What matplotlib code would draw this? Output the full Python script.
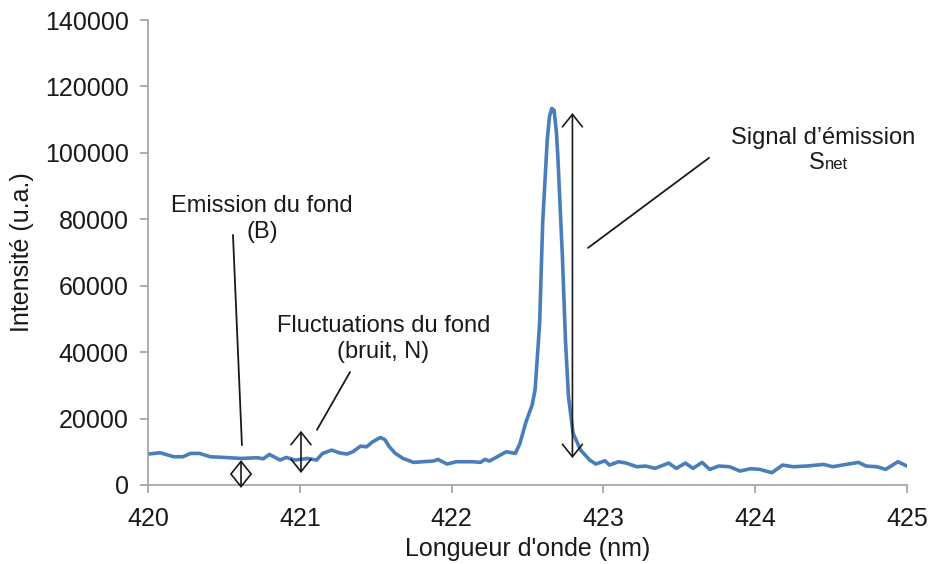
import matplotlib
matplotlib.use('Agg')
import matplotlib.pyplot as plt

plt.rcParams['font.family'] = ['Liberation Sans', 'DejaVu Sans']

# spectre (longueur d'onde en nm, intensite en u.a.)
longueur_onde = [420.00, 420.08, 420.17, 420.23, 420.28, 420.34, 420.41, 420.50, 420.61,
                 420.72, 420.76, 420.80, 420.87, 420.91, 420.97, 421.05, 421.11, 421.15,
                 421.21, 421.26, 421.31, 421.35, 421.40, 421.44, 421.48, 421.53, 421.56,
                 421.59, 421.63, 421.68, 421.75, 421.81, 421.88, 421.91, 421.97, 422.03,
                 422.14, 422.19, 422.22, 422.25, 422.32, 422.36, 422.42, 422.45, 422.49,
                 422.53, 422.55, 422.58, 422.60, 422.63, 422.645, 422.66, 422.675, 422.69,
                 422.70, 422.73, 422.75, 422.77, 422.80, 422.85, 422.91, 422.95, 423.01,
                 423.04, 423.10, 423.15, 423.22, 423.28, 423.34, 423.43, 423.48, 423.54,
                 423.59, 423.65, 423.70, 423.76, 423.83, 423.90, 423.97, 424.03, 424.11,
                 424.18, 424.25, 424.34, 424.45, 424.51, 424.60, 424.68, 424.73, 424.80,
                 424.86, 424.94, 425.00]
intensite = [9300, 9700, 8500, 8500, 9500, 9500, 8500, 8300, 8000,
             8200, 7900, 9200, 7500, 8300, 7500, 8000, 7500, 9500,
             10500, 9700, 9300, 10000, 11700, 11500, 13000, 14300, 13700,
             11500, 9500, 8000, 6800, 7000, 7200, 7700, 6300, 7000,
             7000, 6800, 7700, 7200, 9000, 10000, 9500, 12500, 19000,
             24000, 28600, 48700, 78900, 103900, 111000, 113400, 112800, 106500,
             98800, 68700, 43600, 26600, 15600, 10500, 7500, 6300, 7300,
             6000, 7000, 6600, 5500, 5700, 5000, 6600, 5000, 6600,
             5000, 6800, 4700, 5700, 5500, 4200, 4900, 4700, 3700,
             6000, 5500, 5700, 6200, 5500, 6200, 6800, 5700, 5500,
             4700, 7000, 5700]

x_ticks = [420, 421, 422, 423, 424, 425]
y_ticks = [0, 20000, 40000, 60000, 80000, 100000, 120000, 140000]

fig = plt.figure(figsize=(9.3, 5.64), dpi=100)
ax = fig.add_axes([0.1591, 0.1401, 0.8162, 0.8244])

ax.plot(longueur_onde, intensite, color='#4a7ebb', linewidth=2.6,
        solid_joinstyle='round')

ax.set_xlim(420, 425)
ax.set_ylim(0, 140000)
ax.set_xticks(x_ticks)
ax.set_yticks(y_ticks)
ax.set_xticklabels([str(v) for v in x_ticks])
ax.set_yticklabels([str(v) for v in y_ticks])

for s in ['top', 'right']:
    ax.spines[s].set_visible(False)
for s in ['left', 'bottom']:
    ax.spines[s].set_color('#a0a0a0')
    ax.spines[s].set_linewidth(1.2)
ax.tick_params(axis='both', colors='#a0a0a0', labelcolor='#1a1a1a', labelsize=18,
               length=6, width=1.2)
ax.tick_params(axis='x', pad=10)
ax.tick_params(axis='y', pad=8)

ax.set_xlabel("Longueur d'onde (nm)", fontsize=18, color='#1a1a1a', labelpad=4)
ax.set_ylabel('Intensité (u.a.)', fontsize=18, color='#1a1a1a', labelpad=8)

# annotations
fleche = dict(arrowstyle='<->,head_length=0.75,head_width=0.6', color='#1a1a1a',
              lw=1.2, mutation_scale=12, shrinkA=0, shrinkB=0)
trait = dict(arrowstyle='-', color='#1a1a1a', lw=1.3, shrinkA=0, shrinkB=0)

# emission du fond (B)
ax.annotate('', xy=(420.613, -900), xytext=(420.613, 7500), arrowprops=fleche,
            annotation_clip=False)
ax.annotate('', xy=(420.619, 12000), xytext=(420.560, 75300), arrowprops=trait)
ax.text(420.75, 80000, 'Emission du fond\n(B)', ha='center', va='center',
        fontsize=17, color='#1a1a1a', linespacing=1.25)

# fluctuations du fond (bruit, N)
ax.annotate('', xy=(421.008, 3600), xytext=(421.008, 16300), arrowprops=fleche)
ax.annotate('', xy=(421.113, 16600), xytext=(421.331, 34000), arrowprops=trait)
ax.text(421.55, 44000, 'Fluctuations du fond\n(bruit, N)', ha='center', va='center',
        fontsize=17, color='#1a1a1a', linespacing=1.25)

# signal d'emission net
ax.annotate('', xy=(422.796, 8100), xytext=(422.796, 112000), arrowprops=fleche)
ax.annotate('', xy=(422.899, 71400), xytext=(423.696, 98500), arrowprops=trait)
ax.text(424.45, 104500, 'Signal d’émission', ha='center', va='center',
        fontsize=17, color='#1a1a1a')
ax.text(424.46, 95000, 'S', ha='right', va='baseline', fontsize=17, color='#1a1a1a')
ax.text(424.46, 95000, 'net', ha='left', va='baseline', fontsize=12, color='#1a1a1a')

fig.savefig('out.png', dpi=100)
